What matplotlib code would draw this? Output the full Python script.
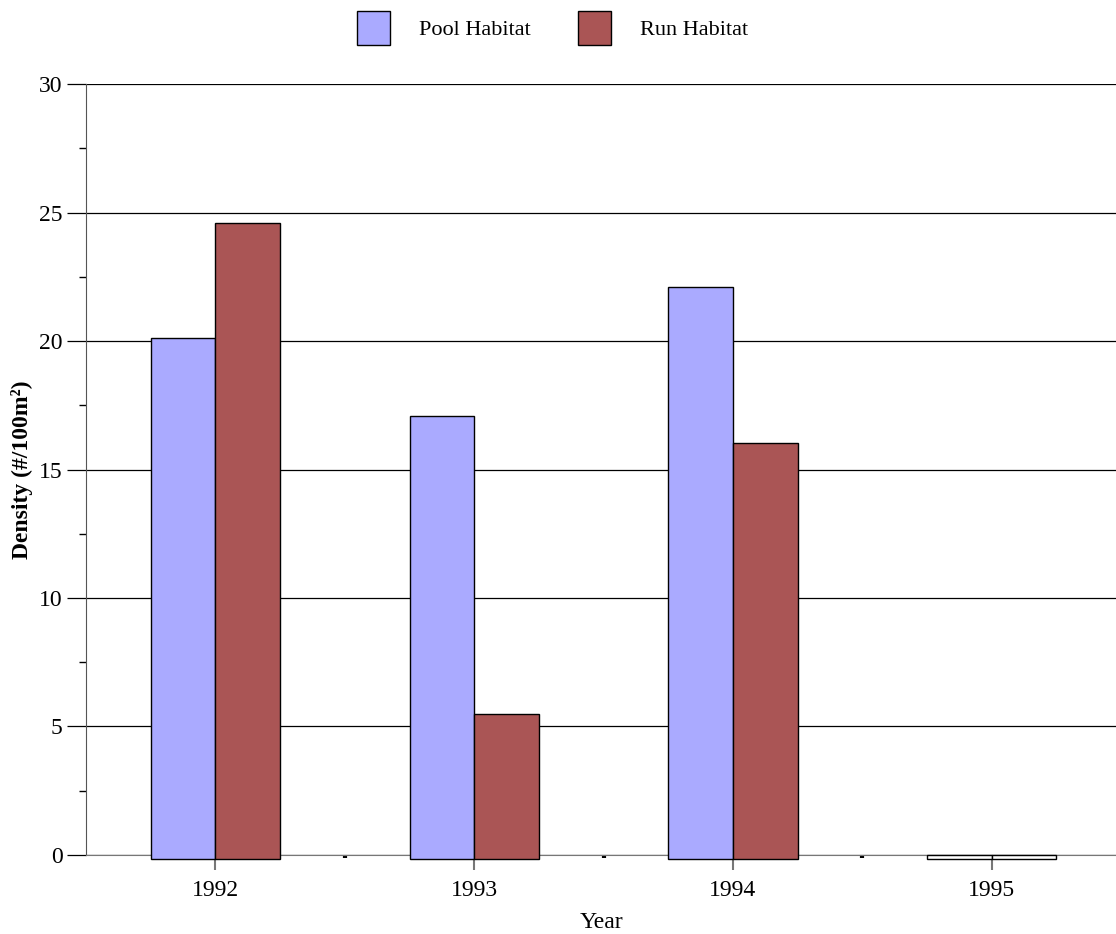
import matplotlib.pyplot as plt
from matplotlib.patches import Patch
import numpy as np

plt.rcParams['font.family'] = ['Liberation Serif', 'DejaVu Serif']

years = ['1992', '1993', '1994', '1995']
pool = [20.1, 17.1, 22.1, 0.0]
run = [24.6, 5.5, 16.05, 0.0]

pool_color = '#aaaaff'
run_color = '#aa5555'
base = -0.15

fig = plt.figure(figsize=(11.16, 9.34), dpi=100)
ax = fig.add_axes([0.0771, 0.0846, 0.9229, 0.8254])

x = np.arange(len(years))
w = 0.25
for i in range(len(years)):
    pc = pool_color if pool[i] > 0 else 'white'
    rc = run_color if run[i] > 0 else 'white'
    ax.bar(x[i] - w / 2, pool[i] - base, w, bottom=base, color=pc,
           edgecolor='black', linewidth=1, zorder=3, clip_on=False)
    ax.bar(x[i] + w / 2, run[i] - base, w, bottom=base, color=rc,
           edgecolor='black', linewidth=1, zorder=3, clip_on=False)

ax.set_xlim(-0.5, 3.48)
ax.set_ylim(0, 30)
ax.set_yticks(range(0, 31, 5))
ax.set_yticks(np.arange(2.5, 30, 5), minor=True)
ax.set_xticks(x)
ax.set_xticklabels(years)
ax.set_xticks(x[:-1] + 0.5, minor=True)

ax.grid(axis='y', color='black', linewidth=0.9, zorder=0)
ax.tick_params(axis='y', which='major', length=14, width=0.9, color='black',
               pad=3, labelsize=17)
ax.tick_params(axis='y', which='minor', length=5, width=1, color='black')
ax.tick_params(axis='x', which='major', length=11, width=1.5, color='#777777',
               pad=7, labelsize=17)
ax.tick_params(axis='x', which='minor', length=2, width=3, color='black',
               direction='out')

for s in ['top', 'right']:
    ax.spines[s].set_visible(False)
ax.spines['left'].set_color('#555555')
ax.spines['bottom'].set_color('#777777')

ax.set_xlabel('Year', fontsize=17, labelpad=8)
ax.set_ylabel('Density (#/100m²)', fontsize=17, fontweight='bold', labelpad=4)

handles = [Patch(facecolor=pool_color, edgecolor='black', label='Pool Habitat'),
           Patch(facecolor=run_color, edgecolor='black', label='Run Habitat')]
fig.legend(handles=handles, loc='upper center', bbox_to_anchor=(0.495, 1.0),
           ncol=2, frameon=False, fontsize=16, handlelength=1.5,
           handleheight=2.0, handletextpad=1.3, columnspacing=2.1,
           borderaxespad=0.1)

fig.savefig('out.png', dpi=100)
